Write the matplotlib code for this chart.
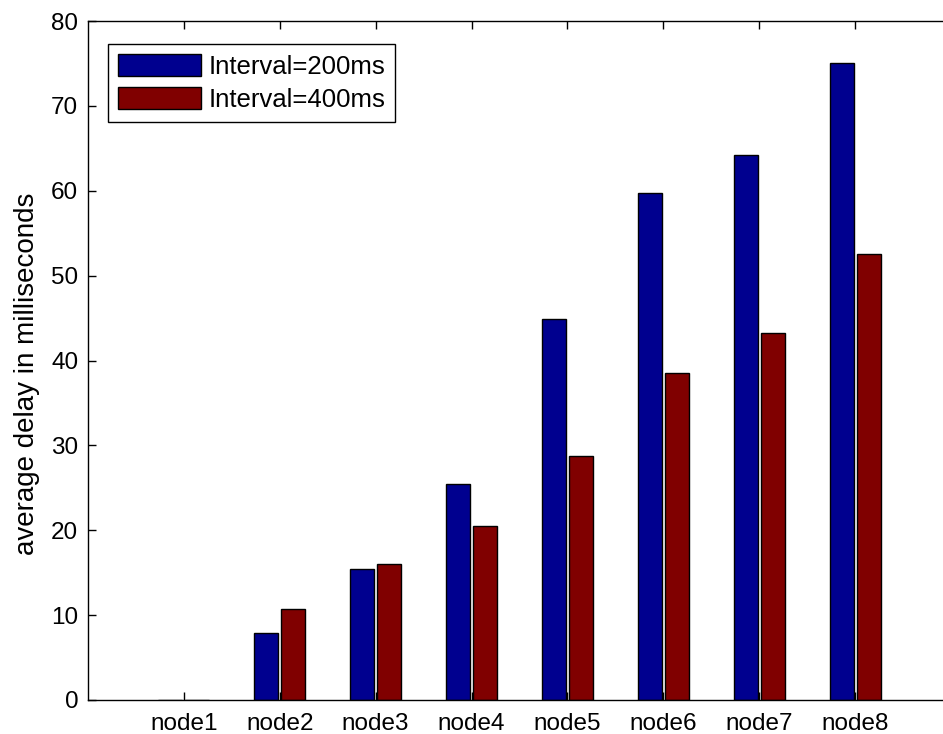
import matplotlib
matplotlib.use("Agg")
import matplotlib.pyplot as plt
import numpy as np

plt.rcParams['font.family'] = ['Liberation Sans', 'DejaVu Sans']

categories = ["node1", "node2", "node3", "node4", "node5", "node6", "node7", "node8"]
interval_200 = [0.0, 7.9, 15.4, 25.4, 44.9, 59.7, 64.2, 75.0]
interval_400 = [0.0, 10.7, 16.0, 20.5, 28.7, 38.5, 43.2, 52.5]
series_labels = ["Interval=200ms", "Interval=400ms"]
yticks = [0, 10, 20, 30, 40, 50, 60, 70, 80]

W, H = 943, 734
fig = plt.figure(figsize=(W / 100, H / 100), dpi=100)
left, right, top, bottom = 88, 951, 21, 700
ax = fig.add_axes([left / W, 1 - bottom / H, (right - left) / W, (bottom - top) / H])

x = np.arange(1, len(categories) + 1)
w = 0.25
off = 0.14
ax.bar(x - off, interval_200, w, color='#00008F', edgecolor='black', linewidth=1.0, label=series_labels[0])
ax.bar(x + off, interval_400, w, color='#800000', edgecolor='black', linewidth=1.0, label=series_labels[1])

ax.set_xlim(0, 9)
ax.set_ylim(0, 80)
ax.set_xticks(x)
ax.set_xticklabels(categories)
ax.set_yticks(yticks)
ax.tick_params(direction='in', length=6, width=1, labelsize=17.5, top=True, right=True, pad=7, colors='black')
ax.tick_params(axis='x', pad=9)
for s in ax.spines.values():
    s.set_linewidth(1.0)
ax.set_ylabel("average delay in milliseconds", fontsize=20)
ax.yaxis.set_label_coords(-(88 - 40) / (right - left), 1 - (374 - top) / (bottom - top))

leg = ax.legend(loc='upper left', bbox_to_anchor=((108 - left) / (right - left), 1 - (44 - top) / (bottom - top)),
                prop={'size': 18.5}, frameon=True, fancybox=False, edgecolor='black', framealpha=1,
                handlelength=3.2, handleheight=0.95, handletextpad=0.3, borderpad=0.4, labelspacing=0.3,
                borderaxespad=0)
leg.get_frame().set_linewidth(1.0)

fig.savefig("out.png", dpi=100)
